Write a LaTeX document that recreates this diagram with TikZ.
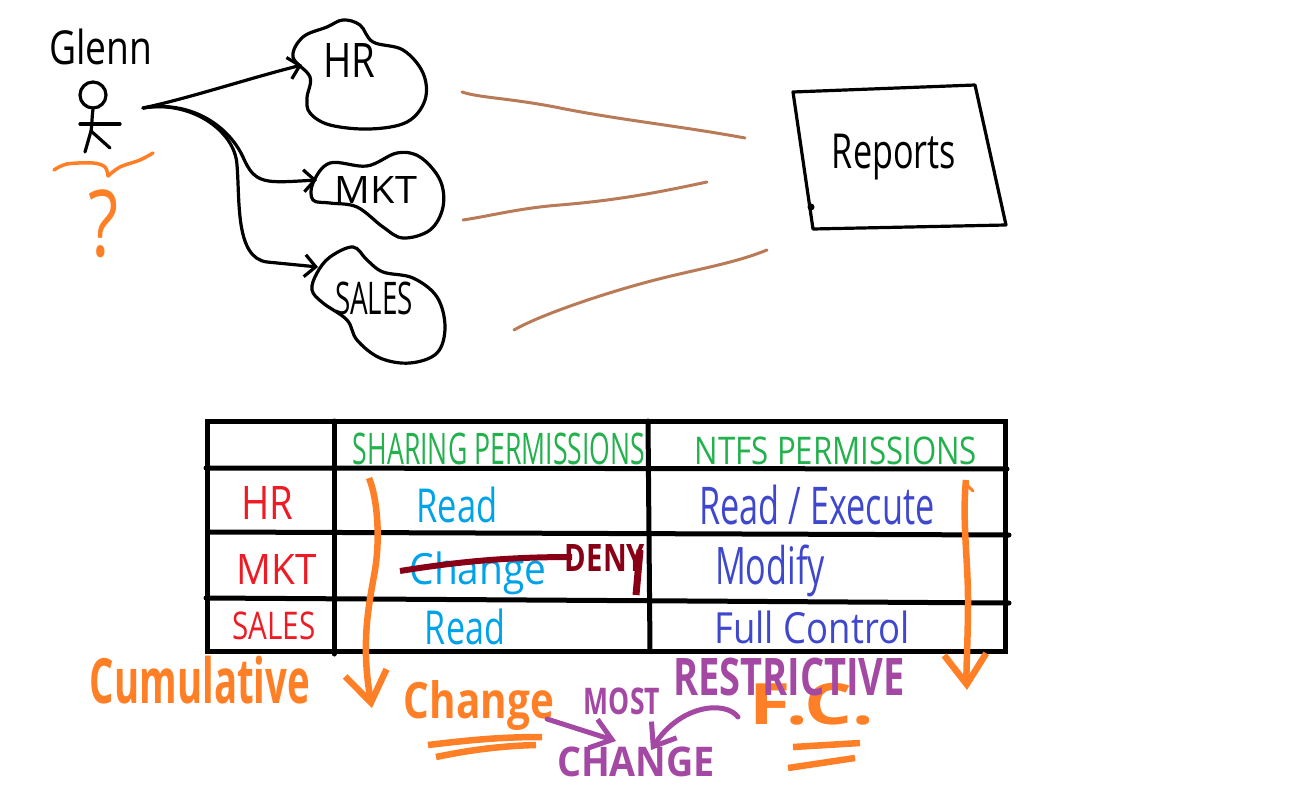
\documentclass[tikz,border=0pt]{standalone}
\usepackage{fontspec}
\setmainfont{Open Sans}
\usetikzlibrary{arrows.meta}
\definecolor{ink}{HTML}{000000}
\definecolor{brownline}{HTML}{B97A57}
\definecolor{orangeink}{HTML}{FF7F27}
\definecolor{greenink}{HTML}{22B14C}
\definecolor{redink}{HTML}{ED1C24}
\definecolor{skyink}{HTML}{00A2E8}
\definecolor{indigoink}{HTML}{3F48CC}
\definecolor{denyink}{HTML}{880015}
\definecolor{purpleink}{HTML}{A349A4}
\newcommand{\fitted}[3]{\resizebox*{#1pt}{#2pt}{#3}}
\tikzset{
  x=1pt,y=-1pt,
  label/.style={inner sep=0pt,outer sep=0pt,text=#1},
  pen/.style={draw=black,line width=3.2pt,line cap=round,line join=round},
  rule/.style={draw=black,line width=5pt,line cap=round},
  brownpen/.style={draw=brownline,line width=3pt,line cap=round},
  orangepen/.style={draw=orangeink,line width=3.5pt,line cap=round,line join=round},
  orangefat/.style={draw=orangeink,line width=6.5pt,line join=round},
  purplepen/.style={draw=purpleink,line width=5pt,line cap=round,line join=round},
  barb/.style={-{Straight Barb[length=11pt,width=22pt,line width=3.2pt]}},
  bigbarb/.style={-{Straight Barb[length=30pt,width=42pt,line width=6.5pt]}},
  purplebarb/.style={-{Straight Barb[length=20pt,width=30pt,line width=5pt]}},
}
\begin{document}
\begin{tikzpicture}
\useasboundingbox (0,0) rectangle (1306,786);

% Person
\node[label=black] (glenn) at (101,47) {\fitted{103}{36}{Glenn}};
\node[pen,circle,minimum size=26pt,inner sep=0pt] (head) at (93,95) {};
\coordinate (hip) at (91,131);
\coordinate (footl) at (85,152);
\coordinate (footr) at (110,148);
\coordinate (arml) at (80,124);
\coordinate (armr) at (120,124);
\draw[pen] (head.south) .. controls (92,115) and (92,125) .. (hip) -- (footl);
\draw[pen] (hip) -- (footr);
\draw[pen] (arml) -- (armr);
\draw[orangepen] plot[smooth,tension=.55] coordinates {(54,170) (67,164) (93,163) (105,167) (108,176)};
\draw[orangepen] plot[smooth,tension=.55] coordinates {(108,176) (120,167) (140,160) (153,153)};
\node[label=orangeink] (question) at (104,224) {\fitted{30}{68}{?}};

% Groups
\draw[pen] plot[smooth cycle,tension=.6] coordinates {(327,27) (343,20) (360,25) (373,42) (403,50) (423,73) (425,100) (407,122) (370,129) (330,125) (310,113) (307,98) (310,77) (293,57) (303,37)};
\draw[pen] plot[smooth cycle,tension=.6] coordinates {(330,163) (367,166) (397,153) (420,157) (440,180) (443,207) (430,230) (403,238) (383,227) (357,207) (330,203) (313,200) (313,183)};
\draw[pen] plot[smooth cycle,tension=.6] coordinates {(317,273) (330,257) (353,247) (367,260) (383,272) (413,278) (437,297) (445,327) (437,353) (410,363) (380,358) (357,340) (347,320) (323,303) (312,290)};
\node[label=black] (hr) at (349,60) {\fitted{52}{34}{HR}};
\node[label=black] (mkt) at (376,190) {\fitted{82}{27}{MKT}};
\node[label=black] (sales) at (374,298) {\fitted{78}{33}{SALES}};

% Person to groups
\coordinate (hand) at (143,108);
\coordinate (hrin) at (302,65);
\coordinate (mktin) at (317,180);
\coordinate (salesin) at (318,267);
\draw[pen,barb] (hand) .. controls (190,98) and (250,78) .. (hrin);
\draw[pen,barb] (hand) .. controls (190,100) and (228,125) .. (243,157) .. controls (255,185) and (265,183) .. (mktin);
\draw[pen,barb] (hand) .. controls (190,100) and (235,130) .. (237,165) .. controls (240,200) and (235,258) .. (267,262) -- (salesin);

% Reports
\coordinate (rtl) at (793,92);
\coordinate (rtr) at (975,85);
\coordinate (rbr) at (1006,225);
\coordinate (rbl) at (813,229);
\draw[pen] (rtl) -- (rtr) -- (rbr) -- (rbl) -- cycle;
\fill (811,207) circle (3.5pt);
\node[label=black] (reports) at (894,157) {\fitted{124}{46}{Reports}};

% Group to report lines
\coordinate (a1) at (462,92);
\coordinate (a2) at (745,138);
\coordinate (b1) at (463,220);
\coordinate (b2) at (707,182);
\coordinate (c1) at (514,330);
\coordinate (c2) at (767,250);
\draw[brownpen] (a1) .. controls (480,98) and (510,98) .. (560,108) .. controls (620,120) and (680,126) .. (a2);
\draw[brownpen] (b1) .. controls (490,216) and (520,208) .. (560,205) .. controls (620,200) and (660,192) .. (b2);
\draw[brownpen] (c1) .. controls (540,315) and (600,295) .. (640,284) .. controls (690,270) and (730,265) .. (c2);

% Table
\draw[rule] (207,421) rectangle (1005,651);
\draw[rule] (206,468) -- (1007,469);
\draw[rule] (210,532) -- (1009,535);
\draw[rule] (206,598) -- (1009,603);
\draw[rule] (334,421) -- (334,654);
\draw[rule] (648,421) -- (650,651);

\node[label=greenink] (sharing) at (499,449) {\fitted{292}{32}{SHARING PERMISSIONS}};
\node[label=greenink] (ntfs) at (836,451) {\fitted{282}{28}{NTFS PERMISSIONS}};
\node[label=redink] (rowhr) at (267,503) {\fitted{52}{33}{HR}};
\node[label=redink] (rowmkt) at (277,569) {\fitted{80}{30}{MKT}};
\node[label=redink] (rowsales) at (274,626) {\fitted{83}{28}{SALES}};
\node[label=skyink] (read1) at (457,505) {\fitted{81}{36}{Read}};
\node[label=skyink] (change1) at (478,573) {\fitted{137}{43}{Change}};
\node[label=skyink] (read2) at (465,627) {\fitted{80}{36}{Read}};
\node[label=indigoink] (readex) at (817,505) {\fitted{235}{40}{Read / Execute}};
\node[label=indigoink] (modify) at (770,571) {\fitted{110}{52}{Modify}};
\node[label=indigoink] (fullc) at (812,627) {\fitted{195}{33}{Full Control}};

% Deny
\coordinate (strikea) at (400,571);
\coordinate (strikeb) at (572,557);
\draw[draw=denyink,line width=6pt] (strikea) .. controls (450,563) and (500,557) .. (strikeb);
\node[label=denyink] (deny) at (605,558) {\fitted{80}{27}{\bfseries DENY}};
\draw[draw=denyink,line width=7pt] (640,550) -- (636,595);

% Orange arrows
\coordinate (cumtop) at (369,478);
\coordinate (cumend) at (372,708);
\coordinate (restop) at (966,480);
\coordinate (resend) at (967,690);
\draw[orangefat,bigbarb] (cumtop) .. controls (378,500) and (380,540) .. (375,570) .. controls (370,600) and (360,640) .. (cumend);
\draw[orangefat,bigbarb] (restop) .. controls (962,520) and (968,560) .. (968,600) .. controls (968,640) and (966,670) .. (resend);
\draw[draw=orangeink,line width=3pt,line cap=round] (964,482) -- (973,491);

% Bottom text
\node[label=orangeink] (cumulative) at (200,680) {\fitted{220}{48}{\bfseries Cumulative}};
\node[label=orangeink] (change2) at (479,706) {\fitted{150}{50}{\bfseries Change}};
\node[label=orangeink] (fc) at (812,704) {\fitted{124}{42}{\bfseries F.C.}};

\coordinate (u1a) at (428,745);
\coordinate (u1b) at (542,737);
\coordinate (u2a) at (436,757);
\coordinate (u2b) at (536,745);
\coordinate (u3a) at (793,747);
\coordinate (u3b) at (860,743);
\coordinate (u4a) at (788,768);
\coordinate (u4b) at (855,758);
\draw[orangefat] (u1a) .. controls (470,740) and (500,737) .. (u1b);
\draw[orangefat] (u2a) .. controls (470,750) and (500,746) .. (u2b);
\draw[orangefat] (u3a) -- (u3b);
\draw[orangefat] (u4a) -- (u4b);

\node[label=purpleink] (most) at (622,701) {\fitted{76}{27}{\bfseries MOST}};
\node[label=purpleink] (restrictive) at (789,677) {\fitted{232}{38}{\bfseries RESTRICTIVE}};
\node[label=purpleink] (changefinal) at (636,762) {\fitted{158}{30}{\bfseries CHANGE}};

\coordinate (p1) at (547,719);
\coordinate (p2) at (616,741);
\coordinate (q1) at (738,717);
\coordinate (q2) at (651,750);
\draw[purplepen,purplebarb] (p1) -- (p2);
\draw[purplepen,purplebarb] (q1) .. controls (725,700) and (680,705) .. (q2);
\end{tikzpicture}
\end{document}
